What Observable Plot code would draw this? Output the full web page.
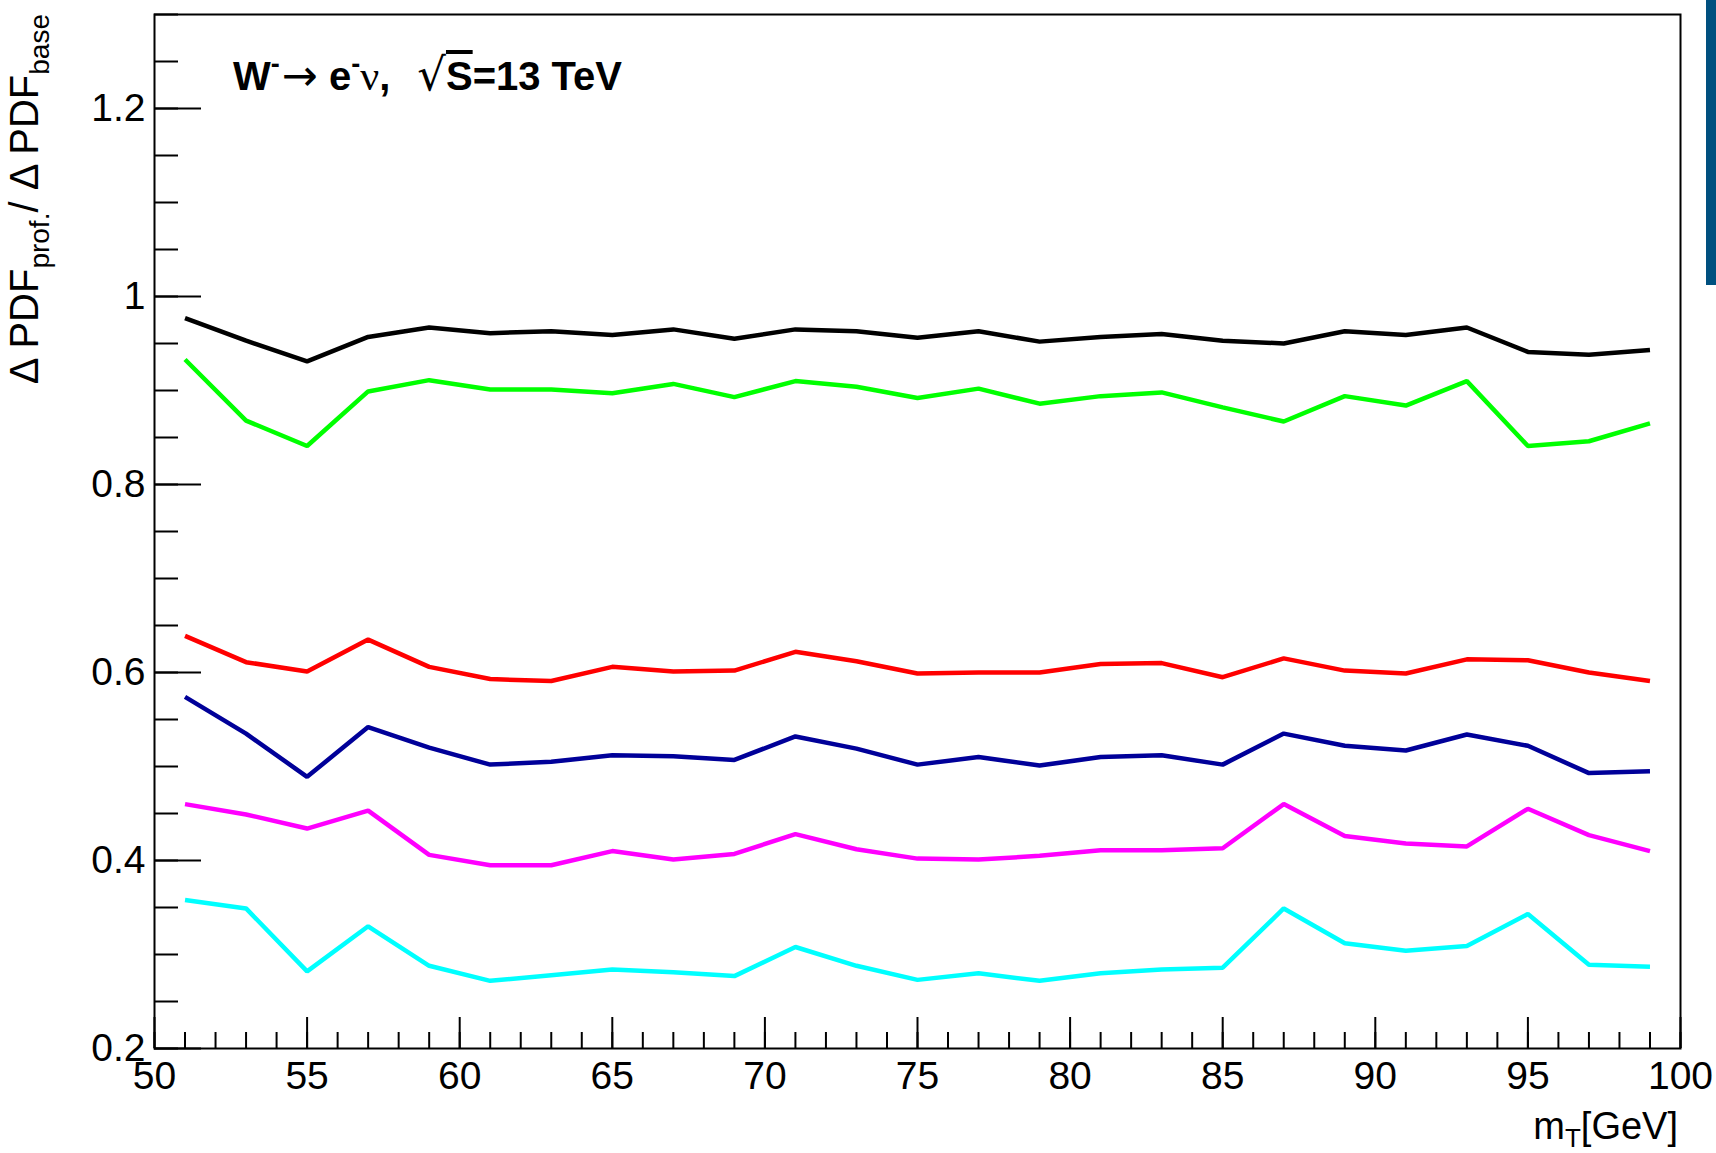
<!DOCTYPE html>
<html>
<head>
<meta charset="utf-8">
<script src="https://cdn.jsdelivr.net/npm/d3@7"></script>
<script src="https://cdn.jsdelivr.net/npm/@observablehq/plot@0.6"></script>
<style>
  html, body { margin: 0; padding: 0; background: white; }
  #wrap { position: relative; width: 1716px; height: 1153px; overflow: hidden; }
  #bar { position: absolute; left: 1706px; top: 0; width: 10px; height: 285px; background: #00507f; }
</style>
</head>
<body>
<div id="wrap"><div id="bar"></div></div>
<script>
const mT = [51,53,55,57,59,61,63,65,67,69,71,73,75,77,79,81,83,85,87,89,91,93,95,97,99];
const seriesBlack   = [0.977,0.953,0.931,0.957,0.967,0.961,0.963,0.959,0.965,0.955,0.965,0.963,0.956,0.963,0.952,0.957,0.960,0.953,0.950,0.963,0.959,0.967,0.941,0.938,0.943];
const seriesGreen   = [0.933,0.868,0.841,0.899,0.911,0.901,0.901,0.897,0.907,0.893,0.910,0.904,0.892,0.902,0.886,0.894,0.898,0.882,0.867,0.894,0.884,0.910,0.841,0.846,0.865];
const seriesRed     = [0.639,0.611,0.601,0.635,0.606,0.593,0.591,0.606,0.601,0.602,0.622,0.612,0.599,0.600,0.600,0.609,0.610,0.595,0.615,0.602,0.599,0.614,0.613,0.600,0.591];
const seriesBlue    = [0.574,0.535,0.489,0.542,0.520,0.502,0.505,0.512,0.511,0.507,0.532,0.519,0.502,0.510,0.501,0.510,0.512,0.502,0.535,0.522,0.517,0.534,0.522,0.493,0.495];
const seriesMagenta = [0.460,0.449,0.434,0.453,0.406,0.395,0.395,0.410,0.401,0.407,0.428,0.412,0.402,0.401,0.405,0.411,0.411,0.413,0.460,0.426,0.418,0.415,0.455,0.427,0.410];
const seriesCyan    = [0.358,0.349,0.282,0.330,0.288,0.272,0.278,0.284,0.281,0.277,0.308,0.288,0.273,0.280,0.272,0.280,0.284,0.286,0.349,0.312,0.304,0.309,0.343,0.289,0.287];

const seriesNames = ["s1","s2","s3","s4","s5","s6"];
const seriesColors = ["#000000","#00ff00","#ff0000","#000099","#ff00ff","#00ffff"];
const seriesValues = [seriesBlack, seriesGreen, seriesRed, seriesBlue, seriesMagenta, seriesCyan];

const xTickMajor = [50,55,60,65,70,75,80,85,90,95,100];
const xTickMinor = d3.range(50, 101, 1);
const yTickMajor = [0.2,0.4,0.6,0.8,1.0,1.2];
const yTickMinor = d3.range(0, 23).map(i => +(0.2 + i*0.05).toFixed(2));

const rows = [];
seriesNames.forEach((name, s) => mT.forEach((x, i) => rows.push({series: name, x, y: seriesValues[s][i]})));

const W = 1716, H = 1153, ML = 154, MR = 36, MT = 14, MB = 105;
const PW = W - ML - MR, PH = H - MT - MB;

const chart = Plot.plot({
  width: W, height: H,
  marginLeft: ML, marginRight: MR, marginTop: MT, marginBottom: MB,
  x: {domain: [50, 100]},
  y: {domain: [0.2, 1.3]},
  color: {type: "ordinal", domain: seriesNames, range: seriesColors},
  style: {fontFamily: "'Liberation Sans', Arial, sans-serif", background: "white", color: "black"},
  marks: [
    Plot.tickX(xTickMinor, {x: d => d, insetTop: PH - 16, stroke: "black", strokeWidth: 2}),
    Plot.tickX(xTickMajor, {x: d => d, insetTop: PH - 31, stroke: "black", strokeWidth: 2}),
    Plot.tickY(yTickMinor, {y: d => d, insetRight: PW - 24, stroke: "black", strokeWidth: 2}),
    Plot.tickY(yTickMajor, {y: d => d, insetRight: PW - 47, stroke: "black", strokeWidth: 2}),
    Plot.line(rows, {x: "x", y: "y", z: "series", stroke: "series", strokeWidth: 4.5, strokeLinejoin: "miter", strokeLinecap: "butt"}),
    Plot.axisX({ticks: xTickMajor, tickSize: 0, tickPadding: 13, fontSize: 39, label: null, tickFormat: d => String(d)}),
    Plot.axisY({ticks: yTickMajor, tickSize: 0, tickPadding: 9, fontSize: 39, label: null, tickFormat: d => String(+d.toFixed(1))}),
    Plot.frame({stroke: "black", strokeWidth: 2})
  ]
});

document.getElementById("wrap").prepend(chart);

const svg = d3.select(chart);
const FF = "'Liberation Sans', Arial, sans-serif";

// Title
const t = svg.append("text").attr("x", 233).attr("y", 90).attr("text-anchor", "start")
  .attr("font-family", FF).attr("font-size", 40).attr("font-weight", "bold").attr("fill", "black");
t.append("tspan").text("W");
t.append("tspan").attr("dy", -17).attr("font-size", 27).text("-");
t.append("tspan").attr("dy", 17).attr("dx", 2).attr("font-weight", "normal").attr("font-family", "'DejaVu Sans', sans-serif").attr("font-size", 43).text("\u2192");
t.append("tspan").text(" e");
t.append("tspan").attr("dy", -17).attr("font-size", 27).text("-");
t.append("tspan").attr("dy", 17).attr("font-family", "'Liberation Serif', serif").attr("font-weight", "normal").attr("font-size", 42).text("\u03BD");
t.append("tspan").text(",");
t.append("tspan").attr("dx", 27).attr("font-weight", "normal").attr("font-family", "'DejaVu Sans', sans-serif").attr("font-size", 45).text("\u221A");
t.append("tspan").attr("text-decoration", "overline").text("S");
t.append("tspan").text("=13 TeV");

// Y label
const yl = svg.append("text").attr("transform", "translate(38,14) rotate(-90)")
  .attr("text-anchor", "end").attr("font-family", FF).attr("font-size", 40).attr("fill", "black");
yl.append("tspan").text("\u0394 PDF");
yl.append("tspan").attr("dy", 11).attr("font-size", 28).text("prof.");
yl.append("tspan").attr("dy", -11).text("/ \u0394 PDF");
yl.append("tspan").attr("dy", 11).attr("font-size", 28).text("base");

// X label
const xl = svg.append("text").attr("x", 1678).attr("y", 1139)
  .attr("text-anchor", "end").attr("font-family", FF).attr("font-size", 38).attr("fill", "black");
xl.append("tspan").text("m");
xl.append("tspan").attr("dy", 8).attr("font-size", 26).text("T");
xl.append("tspan").attr("dy", -8).text("[GeV]");
</script>
</body>
</html>
